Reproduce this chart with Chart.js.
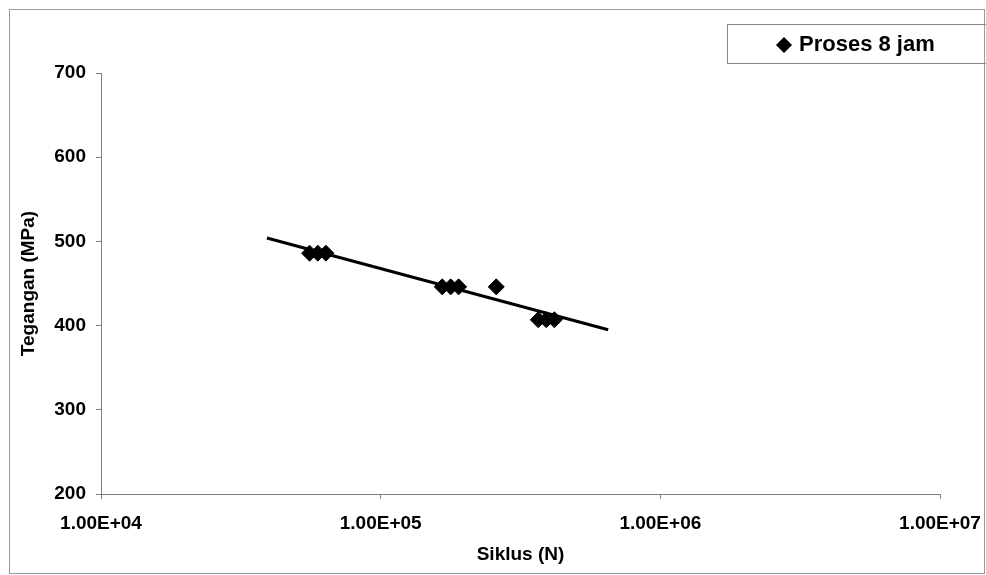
<!DOCTYPE html>
<html>
<head>
<meta charset="utf-8">
<script src="https://cdn.jsdelivr.net/npm/chart.js@4/dist/chart.umd.min.js"></script>
<style>
  html, body { margin: 0; padding: 0; background: #fff; }
  #wrap { width: 986px; height: 575px; }
</style>
</head>
<body>
<div id="wrap"><canvas id="snChart" width="986" height="575"></canvas></div>
<script>
// data
const seriesName = 'Proses 8 jam';
const cycles = [55700, 59600, 63700, 166000, 178000, 190000, 259000, 366000, 391000, 418000];
const stress = [486, 486, 486, 446, 446, 446, 446, 407, 407, 407];
const trendCycles = [39200, 651000];
const trendStress = [504, 395];
const xTicks = [1e4, 1e5, 1e6, 1e7];
const yMin = 200, yMax = 700, yStep = 100;

const FONT = '"Liberation Sans", Arial, sans-serif';

// 1.00E+04 style labels
function sci(v) {
  const e = Math.round(Math.log10(v));
  return (v / Math.pow(10, e)).toFixed(2) + 'E+' + String(e).padStart(2, '0');
}

const points = cycles.map((c, i) => ({ x: c, y: stress[i] }));
const trend = trendCycles.map((c, i) => ({ x: c, y: trendStress[i] }));

// white background + thin outer frame
const framePlugin = {
  id: 'frame',
  beforeDraw(chart) {
    const ctx = chart.ctx;
    ctx.save();
    ctx.fillStyle = '#fff';
    ctx.fillRect(0, 0, chart.width, chart.height);
    ctx.strokeStyle = '#9a9a9a';
    ctx.lineWidth = 1;
    ctx.strokeRect(9.5, 9.5, chart.width - 11, chart.height - 11);
    ctx.restore();
  }
};

// legend box sits above the plot, top right
const legendBox = {
  id: 'legendBox',
  afterDraw(chart) {
    const ctx = chart.ctx;
    ctx.save();
    ctx.strokeStyle = '#8a8a8a';
    ctx.lineWidth = 1;
    ctx.strokeRect(727.5, 24.5, 270, 39);
    const cx = 784, cy = 45, r = 8;
    ctx.fillStyle = '#000';
    ctx.beginPath();
    ctx.moveTo(cx, cy - r);
    ctx.lineTo(cx + r, cy);
    ctx.lineTo(cx, cy + r);
    ctx.lineTo(cx - r, cy);
    ctx.closePath();
    ctx.fill();
    ctx.font = 'bold 22px ' + FONT;
    ctx.textBaseline = 'middle';
    ctx.textAlign = 'left';
    ctx.fillText(seriesName, 799, cy);
    ctx.restore();
  }
};

const ctx = document.getElementById('snChart').getContext('2d');
const chart = new Chart(ctx, {
  type: 'scatter',
  data: {
    datasets: [{
      label: seriesName,
      data: points,
      pointStyle: 'rectRot',
      pointRadius: 8,
      pointBackgroundColor: '#000',
      pointBorderColor: '#000',
      pointBorderWidth: 1,
      showLine: false
    }, {
      label: 'trend',
      data: trend,
      showLine: true,
      borderColor: '#000',
      borderWidth: 3,
      pointRadius: 0
    }]
  },
  options: {
    responsive: false,
    animation: false,
    devicePixelRatio: 1,
    layout: { padding: { left: 10, right: 46, top: 73, bottom: 8 } },
    plugins: {
      legend: { display: false },
      tooltip: { enabled: false }
    },
    scales: {
      x: {
        type: 'logarithmic',
        min: xTicks[0],
        max: xTicks[xTicks.length - 1],
        afterBuildTicks: scale => { scale.ticks = xTicks.map(v => ({ value: v })); },
        afterFit: scale => {
          scale.height = 73;
          scale.paddingLeft = 0;
          scale.paddingRight = 0;
        },
        grid: { drawOnChartArea: false, drawTicks: true, tickLength: 5, color: '#808080' },
        border: { color: '#808080', width: 1 },
        ticks: {
          autoSkip: false,
          maxRotation: 0,
          padding: 13,
          color: '#000',
          font: { family: FONT, size: 19, weight: 'bold' },
          callback: v => sci(v)
        },
        title: {
          display: true,
          text: 'Siklus (N)',
          color: '#000',
          font: { family: FONT, size: 19, weight: 'bold' },
          padding: { top: 0, bottom: 1 }
        }
      },
      y: {
        min: yMin,
        max: yMax,
        afterFit: scale => {
          scale.width = 91;
          scale.paddingTop = 0;
          scale.paddingBottom = 0;
        },
        grid: { drawOnChartArea: false, drawTicks: true, tickLength: 5, color: '#808080' },
        border: { color: '#808080', width: 1 },
        ticks: {
          stepSize: yStep,
          padding: 10,
          color: '#000',
          font: { family: FONT, size: 19, weight: 'bold' }
        },
        title: {
          display: true,
          text: 'Tegangan (MPa)',
          color: '#000',
          font: { family: FONT, size: 19, weight: 'bold' },
          padding: { top: 7, bottom: 0 }
        }
      }
    }
  },
  plugins: [framePlugin, legendBox]
});
</script>
</body>
</html>
